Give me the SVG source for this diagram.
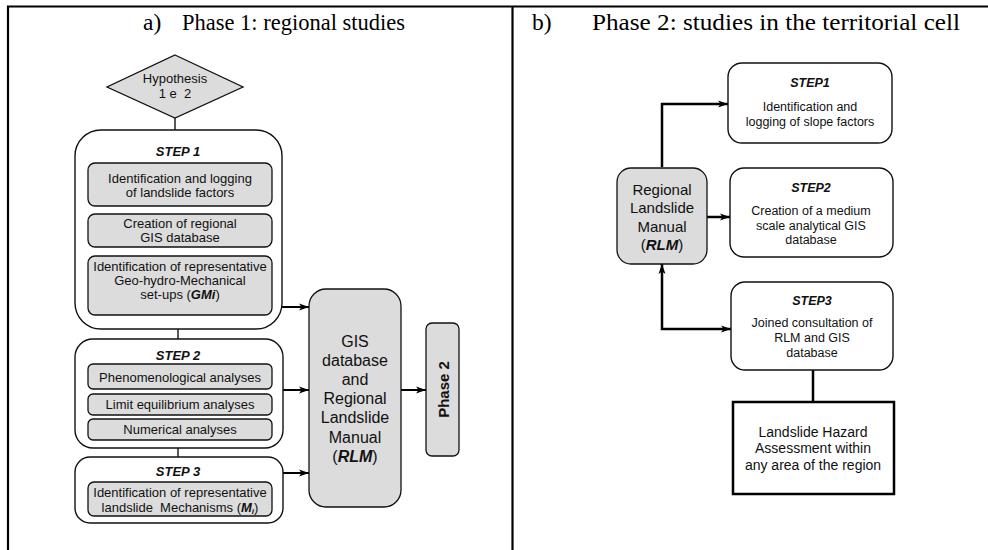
<svg xmlns="http://www.w3.org/2000/svg" width="988" height="550" viewBox="0 0 988 550">
<style>
  .frame{stroke:#000;stroke-width:2.2;fill:none}
  .outer{fill:#fff;stroke:#111;stroke-width:1.4}
  .gray{fill:#dcdcdc;stroke:#111;stroke-width:1.3}
  .t{font-family:"Liberation Sans",Arial,sans-serif;fill:#111;text-anchor:middle}
  .s13{font-size:13px}
  .s12{font-size:12.5px}
  .s14{font-size:14px}
  .s15{font-size:15px}
  .s16{font-size:16px}
  .hd{font-weight:bold;font-style:italic}
  .title{font-family:"Liberation Serif","Times New Roman",serif;font-size:23.5px;fill:#000}
  .conn{stroke:#000;fill:none}
  .thin{stroke-width:1.3}
  .mid{stroke-width:2}
  .thick{stroke-width:2.5}
</style>
<defs>
  <marker id="arr" markerUnits="userSpaceOnUse" markerWidth="11" markerHeight="8" refX="10" refY="4" orient="auto-start-reverse">
    <path d="M0,0.5 L10,4 L0,7.5 L2.5,4 z" fill="#000"/>
  </marker>
</defs>

<g id="frame">
  <line class="frame" x1="7" y1="6.5" x2="988" y2="6.5"/>
  <line class="frame" x1="8" y1="6" x2="8" y2="550"/>
  <line class="frame" x1="512.5" y1="6" x2="512.5" y2="550"/>
</g>

<g id="titles">
  <text class="title" x="143" y="30">a)</text>
  <text class="title" x="182" y="30" textLength="223" lengthAdjust="spacingAndGlyphs">Phase 1: regional studies</text>
  <text class="title" x="532" y="30">b)</text>
  <text class="title" x="592" y="30" textLength="368" lengthAdjust="spacingAndGlyphs">Phase 2: studies in the territorial cell</text>
</g>

<g id="connectors">
  <line class="conn thin" x1="175" y1="118" x2="175" y2="130"/>
  <line class="conn thin" x1="178" y1="329" x2="178" y2="339"/>
  <line class="conn thin" x1="178" y1="448" x2="178" y2="457"/>
  <line class="conn mid" x1="282" y1="307" x2="309" y2="307" marker-end="url(#arr)"/>
  <line class="conn mid" x1="283" y1="390" x2="309" y2="390" marker-end="url(#arr)"/>
  <line class="conn mid" x1="283" y1="473" x2="309" y2="473" marker-end="url(#arr)"/>
  <line class="conn mid" x1="401" y1="390" x2="426" y2="390" marker-end="url(#arr)"/>
  <polyline class="conn thick" points="662,167 662,104 728,104" marker-end="url(#arr)"/>
  <line class="conn thick" x1="707" y1="217" x2="730" y2="217" marker-end="url(#arr)"/>
  <polyline class="conn thick" points="731,329 662,329 662,264" marker-start="url(#arr)" marker-end="url(#arr)"/>
  <line class="conn thick" x1="813" y1="370" x2="813" y2="402"/>
</g>

<g id="hypothesis">
  <polygon class="gray" points="175,55 243,87 175,118 107,87"/>
  <text class="t s13" x="175" y="83">Hypothesis</text>
  <text class="t s13" x="175" y="98" xml:space="preserve">1 e  2</text>
</g>

<g id="step1">
  <rect class="outer" x="75" y="130" width="207" height="199" rx="26"/>
  <text class="t s13 hd" x="178" y="156">STEP 1</text>
  <rect class="gray" x="88" y="163" width="184" height="43" rx="7"/>
  <text class="t s13" x="180" y="183">Identification and logging</text>
  <text class="t s13" x="180" y="197">of landslide factors</text>
  <rect class="gray" x="88" y="214" width="184" height="33" rx="7"/>
  <text class="t s13" x="180" y="228">Creation of regional</text>
  <text class="t s13" x="180" y="242">GIS database</text>
  <rect class="gray" x="88" y="256" width="184" height="59" rx="7"/>
  <text class="t s13" x="180" y="271">Identification of representative</text>
  <text class="t s13" x="180" y="285">Geo-hydro-Mechanical</text>
  <text class="t s13" x="180" y="299">set-ups (<tspan font-weight="bold" font-style="italic">GMi</tspan>)</text>
</g>

<g id="step2">
  <rect class="outer" x="75" y="339" width="208" height="109" rx="18"/>
  <text class="t s13 hd" x="178" y="360">STEP 2</text>
  <rect class="gray" x="88" y="364" width="184" height="25" rx="5"/>
  <text class="t s13" x="180" y="382">Phenomenological analyses</text>
  <rect class="gray" x="88" y="394" width="184" height="21" rx="5"/>
  <text class="t s13" x="180" y="409">Limit equilibrium analyses</text>
  <rect class="gray" x="88" y="419" width="184" height="21" rx="5"/>
  <text class="t s13" x="180" y="434">Numerical analyses</text>
</g>

<g id="step3">
  <rect class="outer" x="75" y="457" width="208" height="66" rx="15"/>
  <text class="t s13 hd" x="178" y="476">STEP 3</text>
  <rect class="gray" x="88" y="482" width="184" height="34" rx="6"/>
  <text class="t s13" x="180" y="497">Identification of representative</text>
  <text class="t s13" x="180" y="512" xml:space="preserve">landslide  Mechanisms (<tspan font-weight="bold" font-style="italic">M<tspan font-size="8" dy="2">i</tspan></tspan><tspan dy="-2">)</tspan></text>
</g>

<g id="gis">
  <rect class="gray" x="309" y="289" width="92" height="218" rx="17"/>
  <text class="t s16" x="355" y="347">GIS</text>
  <text class="t s16" x="355" y="366">database</text>
  <text class="t s16" x="355" y="385">and</text>
  <text class="t s16" x="355" y="404">Regional</text>
  <text class="t s16" x="355" y="423">Landslide</text>
  <text class="t s16" x="355" y="443">Manual</text>
  <text class="t s16" x="355" y="462">(<tspan font-weight="bold" font-style="italic">RLM</tspan>)</text>
</g>

<g id="phase2">
  <rect class="gray" x="426" y="323" width="33" height="133" rx="6"/>
  <text class="t s15" font-weight="bold" transform="translate(448.5,389.5) rotate(-90)">Phase 2</text>
</g>

<g id="rlm">
  <rect class="gray" x="617" y="168" width="90" height="96" rx="14"/>
  <text class="t s15" x="662" y="195">Regional</text>
  <text class="t s15" x="662" y="213">Landslide</text>
  <text class="t s15" x="662" y="232">Manual</text>
  <text class="t s15" x="662" y="250">(<tspan font-weight="bold" font-style="italic">RLM</tspan>)</text>
</g>

<g id="r_step1">
  <rect class="outer" x="728" y="63" width="164" height="80" rx="14"/>
  <text class="t s12 hd" x="810" y="87">STEP1</text>
  <text class="t s12" x="810" y="111">Identification and</text>
  <text class="t s12" x="810" y="126">logging of slope factors</text>
</g>

<g id="r_step2">
  <rect class="outer" x="730" y="168" width="163" height="89" rx="14"/>
  <text class="t s12 hd" x="811" y="192">STEP2</text>
  <text class="t s12" x="811" y="215">Creation of a medium</text>
  <text class="t s12" x="811" y="230">scale analytical GIS</text>
  <text class="t s12" x="811" y="244">database</text>
</g>

<g id="r_step3">
  <rect class="outer" x="731" y="282" width="162" height="88" rx="14"/>
  <text class="t s12 hd" x="812" y="305">STEP3</text>
  <text class="t s12" x="812" y="327">Joined consultation of</text>
  <text class="t s12" x="812" y="342">RLM and GIS</text>
  <text class="t s12" x="812" y="357">database</text>
</g>

<g id="hazard">
  <rect x="733" y="402" width="161" height="92" fill="#fff" stroke="#000" stroke-width="2.5"/>
  <text class="t s14" x="813" y="437">Landslide Hazard</text>
  <text class="t s14" x="813" y="453">Assessment within</text>
  <text class="t s14" x="813" y="470">any area of the region</text>
</g>
</svg>
